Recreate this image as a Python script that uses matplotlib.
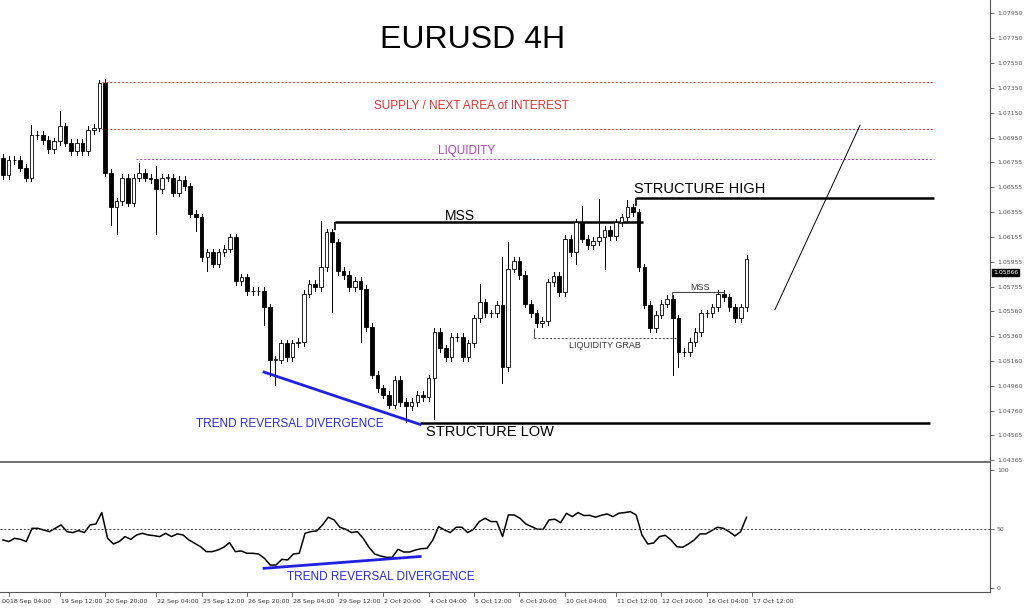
import matplotlib
matplotlib.use("Agg")
import matplotlib.pyplot as plt
from matplotlib.patches import Rectangle

closes = [1.0665,1.0677,1.0677,1.0671,1.0663,1.0697,1.0697,1.0693,1.0686,1.0692,1.0704,1.0691,1.0684,1.0691,1.0684,1.0701,1.0703,1.0739,1.0667,1.0639,
          1.0644,1.0663,1.0643,1.0663,1.0667,1.0663,1.0662,1.0654,1.0663,1.0663,1.0651,1.0661,1.0656,1.0634,1.0631,1.0599,1.0603,1.0594,1.0603,1.0606,
          1.0615,1.0580,1.0583,1.0572,1.0572,1.0572,1.0559,1.0517,1.0517,1.0530,1.0519,1.0530,1.0531,1.0570,1.0578,1.0575,1.0591,1.0619,1.0611,1.0588,
          1.0585,1.0575,1.0580,1.0574,1.0543,1.0505,1.0494,1.0489,1.0481,1.0501,1.0483,1.0480,1.0483,1.0489,1.0487,1.0502,1.0539,1.0526,1.0519,1.0535,
          1.0535,1.0519,1.0530,1.0550,1.0563,1.0554,1.0554,1.0561,1.0511,1.0590,1.0596,1.0585,1.0562,1.0554,1.0546,1.0548,1.0579,1.0584,1.0571,1.0614,
          1.0603,1.0627,1.0614,1.0609,1.0612,1.0615,1.0621,1.0616,1.0627,1.0631,1.0639,1.0635,1.0591,1.0561,1.0542,1.0553,1.0562,1.0566,1.0550,1.0523,
          1.0523,1.0531,1.0539,1.0554,1.0554,1.0559,1.0570,1.0567,1.0559,1.0550,1.0559,1.0598]
first_open = 1.0679
extreme_highs = {5:1.0705, 10:1.0716, 17:1.0741, 24:1.0675, 27:1.0672, 56:1.0628, 84:1.0578, 88:1.0599, 89:1.0611, 102:1.0640, 105:1.0646, 110:1.0645, 131:1.0601}
extreme_lows = {19:1.0625, 20:1.0618, 27:1.0618, 34:1.0620, 36:1.0588, 41:1.0577, 46:1.0545, 47:1.0504, 48:1.0497, 58:1.0555, 63:1.0531, 71:1.0467, 76:1.0469, 88:1.0498, 101:1.0594, 106:1.0590, 118:1.0505, 119:1.0511}

rsi = [41.0,39.6,42.4,41.5,39.6,50.8,50.8,49.4,48.0,50.8,53.7,48.0,47.2,48.9,47.2,53.7,54.5,64.1,42.4,37.6,
       39.6,43.8,41.5,45.2,46.6,45.2,44.6,43.8,46.6,43.8,46.1,45.2,41.0,38.2,35.3,31.1,31.1,32.5,34.8,38.7,
       31.1,31.7,29.7,29.7,29.1,25.5,19.8,19.8,24.6,24.1,29.1,29.7,46.6,48.0,48.6,53.7,60.2,57.9,51.7,50.0,
       47.2,48.0,42.4,34.8,29.1,27.4,26.3,26.3,33.1,30.8,30.8,32.5,33.6,33.9,41.0,52.3,49.4,47.2,51.7,51.7,
       47.2,50.0,56.5,59.3,56.5,56.5,43.8,62.1,62.1,59.3,54.5,52.3,50.0,50.0,57.9,58.5,55.6,63.5,60.7,64.1,
       61.6,61.8,60.2,61.8,63.0,60.7,63.5,64.1,64.9,62.1,45.2,37.6,38.4,43.8,44.9,41.0,35.3,34.8,37.6,41.0,
       46.1,46.1,48.9,51.7,50.8,48.0,44.4,48.0,60.2]

price_ticks = [1.07950,1.07750,1.07550,1.07350,1.07150,1.06950,1.06755,1.06555,1.06355,1.06155,1.05955,1.05755,1.05560,1.05360,1.05160,1.04960,1.04760,1.04565,1.04365]
date_labels = ["18 Sep 04:00","19 Sep 12:00","20 Sep 20:00","22 Sep 04:00","25 Sep 12:00","26 Sep 20:00","28 Sep 04:00","29 Sep 12:00","2 Oct 20:00",
               "4 Oct 04:00","5 Oct 12:00","6 Oct 20:00","10 Oct 04:00","11 Oct 12:00","12 Oct 20:00","16 Oct 04:00","17 Oct 12:00"]
date_pos = [1,10,18,27,35,43,51,59,67,75,83,91,99,108,116,124,132]
last_price = 1.05866

supply_top, supply_bot, liquidity_lvl = 1.0740, 1.0702, 1.0678
struct_high, mss_lvl, struct_low = 1.0647, 1.0627, 1.0466
mss_small, liq_grab = 1.0571, 1.0534
div_price = [(46, 1.0507), (73.5, 1.0465)]
proj_line = [(136, 1.0557), (151, 1.0705)]
div_rsi = [(46, 17.0), (73.5, 27.0)]

W, H = 1024, 608
fig = plt.figure(figsize=(W/100, H/100), dpi=100)
ax = fig.add_axes([0, 1-462/H, 990/W, 462/H])
ax2 = fig.add_axes([0, 16/H, 990/W, (592-463)/H])

opens = [first_open] + closes[:-1]
for i, (o, c) in enumerate(zip(opens, closes)):
    hi = extreme_highs.get(i, max(o, c) + 0.0003)
    lo = extreme_lows.get(i, min(o, c) - 0.0003)
    ax.plot([i, i], [lo, hi], color='black', lw=0.7, zorder=2)
    bull = c >= o
    body = max(abs(c-o), 0.00004)
    ax.add_patch(Rectangle((i-0.32, min(o, c)), 0.64, body, facecolor='white' if bull else 'black',
                           edgecolor='black', lw=0.6, zorder=3))

fam = ['Liberation Sans', 'DejaVu Sans']
ax.hlines(supply_top, 17.5, 164, colors='#e03030', linestyles=(0, (2, 2)), lw=0.7)
ax.hlines(supply_bot, 17.5, 164, colors='#e03030', linestyles=(0, (2, 2)), lw=0.7)
ax.hlines(liquidity_lvl, 23.5, 164, colors='#b040c0', linestyles=(0, (2, 2)), lw=0.7)
ax.hlines(struct_high, 111.5, 164, colors='black', lw=1.8)
ax.vlines(111.5, 1.0640, struct_high, colors='black', lw=1.2)
ax.hlines(mss_lvl, 58.5, 112.7, colors='black', lw=1.8)
ax.vlines(58.5, 1.0621, mss_lvl, colors='black', lw=1.2)
ax.hlines(struct_low, 73.5, 163.3, colors='black', lw=1.8)
ax.hlines(mss_small, 117.9, 127, colors='#444444', lw=0.8)
ax.vlines(117.9, 1.0565, mss_small, colors='#444444', lw=0.8)
ax.hlines(liq_grab, 93.5, 119.3, colors='#444444', linestyles=(0, (2, 2)), lw=0.7)
ax.vlines(93.5, liq_grab, 1.0542, colors='#444444', lw=0.7)
ax.plot(*zip(*div_price), color='#2020e0', lw=2)
ax.plot(*zip(*proj_line), color='black', lw=0.7)

def tx(a, x, y, s, **kw):
    a.text(x, y, s, family=fam, **kw)

fig.text(473/W, 1-40/H, "EURUSD 4H", ha='center', va='center', fontsize=23, family=fam)
tx(ax, 82.5, 1.0720, "SUPPLY / NEXT AREA of INTEREST", color='#e03030', fontsize=8.5, ha='center', va='center')
tx(ax, 81.7, 1.0684, "LIQUIDITY", color='#b040c0', fontsize=8.5, ha='center', va='center')
tx(ax, 122.8, 1.0654, "STRUCTURE HIGH", fontsize=10.5, ha='center', va='center')
tx(ax, 80.5, 1.0632, "MSS", fontsize=10, ha='center', va='center')
tx(ax, 85.8, 1.0459, "STRUCTURE LOW", fontsize=10.5, ha='center', va='center')
tx(ax, 50.6, 1.0465, "TREND REVERSAL DIVERGENCE", color='#2828e0', fontsize=8.5, ha='center', va='center')
tx(ax, 106, 1.0528, "LIQUIDITY GRAB", fontsize=6.5, ha='center', va='center', color='#333333')
tx(ax, 122.8, 1.0575, "MSS", fontsize=6.5, ha='center', va='center', color='#333333')

ax2.plot([i*(len(closes)-1)/(len(rsi)-1) for i in range(len(rsi))], rsi, color='black', lw=1.1)
ax2.axhline(50, color='#444444', lw=0.7, ls=(0, (2, 2)))
ax2.plot(*zip(*div_rsi), color='#2020e0', lw=2)
tx(ax2, 66.5, 10, "TREND REVERSAL DIVERGENCE", color='#2828e0', fontsize=8.5, ha='center', va='center')

for a in (ax, ax2):
    a.set_xticks([])
    a.spines['left'].set_visible(False)
    for s in ('top', 'bottom', 'right'):
        a.spines[s].set_color('#555555')
    a.spines['top'].set_visible(False)
    a.yaxis.tick_right()
    a.tick_params(axis='y', labelsize=4.5, colors='#555555', length=3, width=0.6, pad=2)
ax.spines['bottom'].set_linewidth(1.2)
ax.set_yticks(price_ticks)
ax.set_yticklabels([f"{p:.5f}" for p in price_ticks])
ax2.set_yticks([0, 50, 100]); ax2.set_yticklabels(['0', '50', '100'])

xl = (-0.53, 173.9)
ax.set_xlim(*xl); ax2.set_xlim(*xl)
ax.set_ylim(1.04349, 1.08054)
ax2.set_ylim(-3, 106)

ax.text(1.003, last_price, f"{last_price:.5f}", transform=ax.get_yaxis_transform(), fontsize=4.5,
        color='white', va='center', ha='left', bbox=dict(boxstyle='square,pad=0.15', fc='black', ec='black'))

for lab, p in zip(date_labels, date_pos):
    x = ax2.transData.transform((p, 0))[0] / fig.bbox.width
    fig.text(x + 1/W, 4/H, lab, fontsize=4.5, color='#333333', ha='left', va='bottom')
    fig.add_artist(plt.Line2D([x, x], [16/H, 12/H], color='#555555', lw=0.6))
fig.text(0, 4/H, ":00", fontsize=4.5, color='#333333', ha='left', va='bottom')

fig.savefig("out.png", dpi=100, facecolor='white')
